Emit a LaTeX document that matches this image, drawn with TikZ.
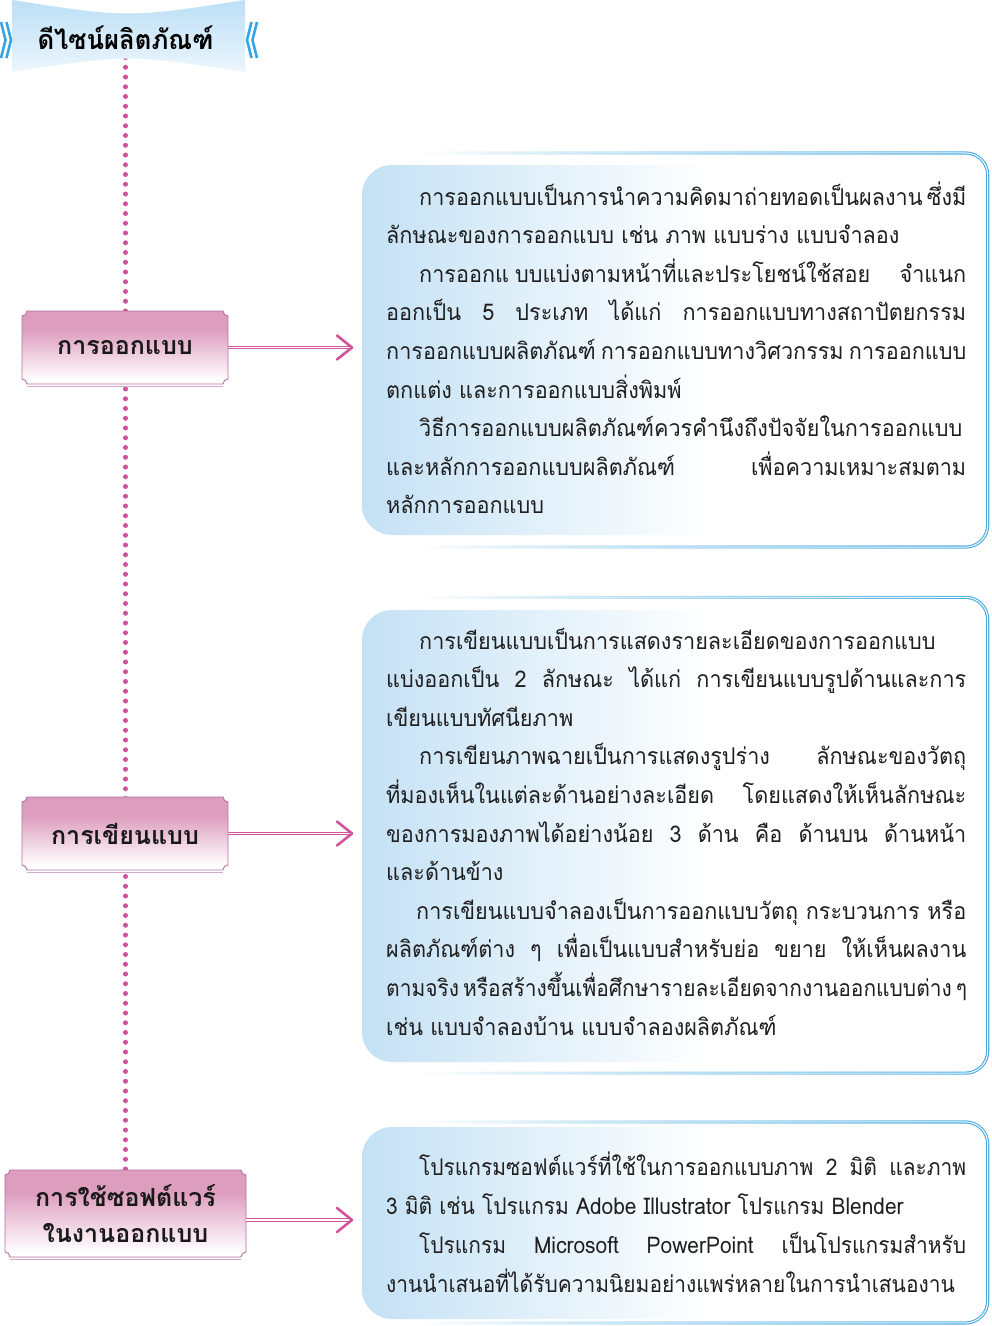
\documentclass[tikz,border=0pt]{standalone}
\usepackage{fontspec}
\newfontfamily\thai[Script=Thai]{Loma}
\newfontfamily\thaic[Script=Thai,FakeStretch=0.94]{Loma}
\newfontfamily\thais[Script=Thai,FakeStretch=0.91]{Loma}
\newfontfamily\thait[Script=Thai,FakeStretch=0.95]{Loma}
\usetikzlibrary{fadings,backgrounds,calc}
\definecolor{boxblue}{RGB}{196,225,245}
\definecolor{borderblue}{RGB}{70,170,225}
\definecolor{lblpink}{RGB}{221,158,190}
\definecolor{lblborder}{RGB}{180,110,165}
\definecolor{arrowpink}{RGB}{210,85,155}
\definecolor{dotpink}{RGB}{208,80,155}
\definecolor{titleA}{RGB}{188,223,246}
\definecolor{titleB}{RGB}{236,246,253}
\definecolor{chevblue}{RGB}{55,165,225}
\pgfdeclarehorizontalshading{boxshade}{100bp}{color(0bp)=(boxblue); color(25bp)=(boxblue); color(53bp)=(white); color(100bp)=(white)}
\pgfdeclareverticalshading{lblshade}{100bp}{color(0bp)=(white); color(28bp)=(white); color(62bp)=(lblpink); color(100bp)=(lblpink)}
\tikzfading[name=fadeL, left color=transparent!100, middle color=transparent!0, right color=transparent!0]
\newcommand\jline[1]{\hbox to \hsize{\spaceskip=0.3em plus 20em minus 0.12em\relax #1}}
\newcommand\eline[1]{\hbox{#1}}
\newcommand\ind{\hskip33pt\relax}
\newcommand\txtbox[4]{%
  \shade[shading=boxshade, rounded corners=30pt] (362,#2) rectangle (986,#3);
  \draw[bordr, path fading=fadeL, rounded corners=22pt] (420,#1) -| (988,#4) -- (420,#4);
}
\newcommand\lblshape[4]{%
  \shade[shading=lblshade] (#1+5,#2) -- (#3-5,#2) arc[start angle=180,end angle=90,radius=5] -- (#3,#4-5) arc[start angle=270,end angle=180,radius=5] -- (#1+5,#4) arc[start angle=0,end angle=-90,radius=5] -- (#1,#2+5) arc[start angle=90,end angle=0,radius=5] -- cycle;
  \draw[lbledge] (#1+5,#2) -- (#3-5,#2) arc[start angle=180,end angle=90,radius=5] -- (#3,#4-5) arc[start angle=270,end angle=180,radius=5] -- (#1+5,#4) arc[start angle=0,end angle=-90,radius=5] -- (#1,#2+5) arc[start angle=90,end angle=0,radius=5] -- cycle;
  \draw[lblborder!60, line width=0.8pt] (#1+5,#4+2.2) -- (#3-5,#4+2.2);
}
\tikzset{
  bordr/.style={draw=borderblue, double=white, double distance=1pt, line width=1.1pt},
  lbledge/.style={draw=lblborder, line width=0.9pt},
  lblnode/.style={inner sep=0pt, font=\fontsize{25}{36}\thai\bfseries, align=center, text=black!90},
  body/.style={inner sep=0pt, anchor=base west, font=\fontsize{23}{38.6}\thaic, text=black!88},
  dblline/.style={draw=arrowpink, double=white, double distance=1.3pt, line width=1.1pt, shorten >=2pt},
  chev/.style={draw=arrowpink, line width=2.6pt, line cap=round, line join=round},
  dotline/.style={draw=dotpink, line width=5pt, line cap=round, dash pattern=on 0pt off 9.75pt},
  chevb/.style={draw=chevblue, line width=2.6pt, line join=miter}
}
\begin{document}
\begin{tikzpicture}[x=1pt, y=-1pt]
\useasboundingbox (0,0) rectangle (992,1326);
% title banner
\shade[top color=titleA, bottom color=titleB] (12,0) .. controls (128,18) .. (245,0) -- (245,72) .. controls (128,54) .. (12,72) -- cycle;
\draw[chevb] (1,22) -- (5.5,40) -- (1,58);
\draw[chevb] (6.5,22) -- (11,40) -- (6.5,58);
\draw[chevb] (257,22) -- (252.5,40) -- (257,58);
\draw[chevb] (251.5,22) -- (247,40) -- (251.5,58);
\node[font=\fontsize{27}{34}\thait\bfseries, inner sep=0pt] (ttl) at (125.5,38) {ดีไซน์ผลิตภัณฑ์};
% label boxes
\lblshape{22}{311}{228}{384}
\node[lblnode, minimum width=206pt, minimum height=73pt] (lab1) at (125,347.5) {การออกแบบ};
\lblshape{22}{797}{228}{870}
\node[lblnode, minimum width=206pt, minimum height=73pt] (lab2) at (125,833.5) {การเขียนแบบ};
\lblshape{5}{1170}{246}{1257}
\node[lblnode, minimum width=241pt, minimum height=87pt] (lab3) at (125.5,1213.5) {\raisebox{-3pt}{การใช้ซอฟต์แวร์}\\\raisebox{-3pt}{ในงานออกแบบ}};
% dotted spine
\begin{pgfonlayer}{background}
\fill[white] (0,0) rectangle (992,1326);
\draw[dotline] (ttl.center) -- (lab3.center);
\end{pgfonlayer}
% text boxes
\txtbox{153}{165}{535}{547}
\node[body] (t1) at (386,205) {\vtop{\hsize=580pt\lineskiplimit=-100pt
\jline{\ind การออกแบบเป็นการนำความคิดมาถ่ายทอดเป็นผลงาน ซึ่งมี}
\eline{ลักษณะของการออกแบบ เช่น ภาพ แบบร่าง แบบจำลอง}
\jline{\ind การออกแ\kern6pt บบแบ่งตามหน้าที่และประโยชน์ใช้สอย จำแนก}
\jline{ออกเป็น 5 ประเภท ได้แก่ การออกแบบทางสถาปัตยกรรม}
\jline{การออกแบบผลิตภัณฑ์ การออกแบบทางวิศวกรรม การออกแบบ}
\eline{ตกแต่ง และการออกแบบสิ่งพิมพ์}
\jline{\ind วิธีการออกแบบผลิตภัณฑ์ควรคำนึงถึงปัจจัยในการออกแบบ}
\jline{และหลักการออกแบบผลิตภัณฑ์ เพื่อความเหมาะสมตาม}
\eline{หลักการออกแบบ}}};
\txtbox{597}{610}{1062}{1073}
\node[body] (t2) at (386,649) {\vtop{\hsize=580pt\lineskiplimit=-100pt
\jline{\ind การเขียนแบบเป็นการแสดงรายละเอียดของการออกแบบ}
\jline{แบ่งออกเป็น 2 ลักษณะ ได้แก่ การเขียนแบบรูปด้านและการ}
\eline{เขียนแบบทัศนียภาพ}
\jline{\ind การเขียนภาพฉายเป็นการแสดงรูปร่าง ลักษณะของวัตถุ}
\jline{ที่มองเห็นในแต่ละด้านอย่างละเอียด โดยแสดงให้เห็นลักษณะ}
\jline{ของการมองภาพได้อย่างน้อย 3 ด้าน คือ ด้านบน ด้านหน้า}
\eline{และด้านข้าง}
\jline{\hskip30pt การเขียนแบบจำลองเป็นการออกแบบวัตถุ กระบวนการ หรือ}
\jline{ผลิตภัณฑ์ต่าง ๆ เพื่อเป็นแบบสำหรับย่อ ขยาย ให้เห็นผลงาน}
\jline{\thais ตามจริง หรือสร้างขึ้นเพื่อศึกษารายละเอียดจากงานออกแบบต่าง ๆ}
\eline{เช่น แบบจำลองบ้าน แบบจำลองผลิตภัณฑ์}}};
\txtbox{1122}{1127}{1319}{1323}
\node[body, font=\fontsize{23}{39}\thais] (t3) at (386,1175) {\vtop{\hsize=580pt\lineskiplimit=-100pt
\jline{\ind โปรแกรมซอฟต์แวร์ที่ใช้ในการออกแบบภาพ 2 มิติ และภาพ}
\eline{3 มิติ เช่น โปรแกรม Adobe Illustrator โปรแกรม Blender}
\jline{\ind โปรแกรม Microsoft PowerPoint เป็นโปรแกรมสำหรับ}
\eline{งานนำเสนอที่ได้รับความนิยมอย่างแพร่หลายในการนำเสนองาน}}};
% connectors
\coordinate (a1) at (352,347.5);
\coordinate (a2) at (352,833.5);
\coordinate (a3) at (352,1220);
\draw[dblline] (lab1.east) -- (a1);
\draw[chev] ($(a1)+(-15,-12)$) -- (a1) -- ($(a1)+(-15,12)$);
\draw[dblline] (lab2.east) -- (a2);
\draw[chev] ($(a2)+(-15,-12)$) -- (a2) -- ($(a2)+(-15,12)$);
\draw[dblline] (lab3.east |- a3) -- (a3);
\draw[chev] ($(a3)+(-15,-12)$) -- (a3) -- ($(a3)+(-15,12)$);
\end{tikzpicture}
\end{document}
